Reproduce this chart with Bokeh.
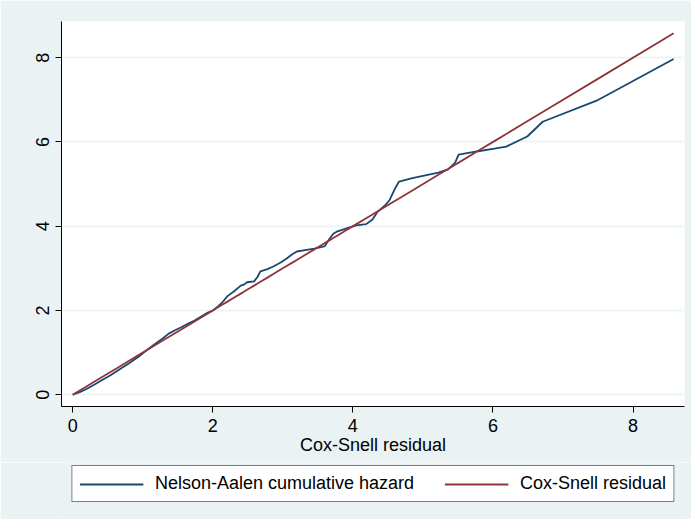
from bokeh.plotting import figure
from bokeh.models import Legend, LegendItem, FixedTicker, Range1d
from bokeh.layouts import column
from bokeh.embed import file_html
from bokeh.resources import INLINE

# Cox-Snell residuals (x) and Nelson-Aalen cumulative hazard (y)
cs_resid = [0, 0.1, 0.19, 0.3, 0.42, 0.54, 0.66, 0.8, 0.94, 1.05, 1.18, 1.28, 1.37, 1.46,
            1.55, 1.65, 1.74, 1.84, 1.93, 2.0, 2.07, 2.14, 2.21, 2.3, 2.40, 2.45, 2.49, 2.59,
            2.64, 2.68, 2.78, 2.87, 2.97, 3.06, 3.13, 3.20, 3.34, 3.45, 3.53, 3.60, 3.67, 3.72,
            3.77, 3.91, 4.05, 4.19, 4.28, 4.35, 4.45, 4.52, 4.61, 4.66, 4.85, 5.22, 5.36, 5.46,
            5.51, 5.79, 6.02, 6.19, 6.49, 6.71, 7.48, 8.58]
na_hazard = [0, 0.06, 0.13, 0.23, 0.35, 0.46, 0.59, 0.74, 0.90, 1.05, 1.21, 1.33, 1.45, 1.53,
             1.60, 1.69, 1.76, 1.86, 1.95, 2.00, 2.09, 2.20, 2.34, 2.45, 2.59, 2.62, 2.67, 2.69,
             2.80, 2.93, 2.98, 3.05, 3.14, 3.24, 3.33, 3.40, 3.44, 3.47, 3.50, 3.53, 3.71, 3.82,
             3.87, 3.95, 4.02, 4.05, 4.16, 4.34, 4.48, 4.61, 4.92, 5.06, 5.14, 5.27, 5.35, 5.51,
             5.70, 5.78, 5.84, 5.89, 6.13, 6.48, 6.98, 7.97]
x_ticks = [0, 2, 4, 6, 8]
y_ticks = [0, 2, 4, 6, 8]
labels = ["Nelson-Aalen cumulative hazard", "Cox-Snell residual"]

BG = "#EAF2F3"
NAVY = "#1A476F"
MAROON = "#90353B"
FONT = "Liberation Sans"
FS = "18px"
LW = 1.8

# ---- main plot ----
p = figure(width=691, height=462, output_backend="svg", toolbar_location=None,
           x_range=Range1d(-0.16, 8.735), y_range=Range1d(-0.28, 8.86),
           min_border_left=61, min_border_right=7, min_border_top=21, min_border_bottom=56)
p.border_fill_color = BG
p.background_fill_color = "white"
p.outline_line_color = None

p.xgrid.grid_line_color = None
p.ygrid.grid_line_color = BG
p.ygrid.grid_line_width = 1.5
p.ygrid.ticker = FixedTicker(ticks=y_ticks)

for ax in (p.xaxis[0], p.yaxis[0]):
    ax.axis_line_color = "black"
    ax.axis_line_width = 1
    ax.major_tick_line_color = "black"
    ax.major_tick_out = 6
    ax.major_tick_in = 0
    ax.minor_tick_line_color = None
    ax.major_label_text_font = FONT
    ax.major_label_text_font_size = FS
    ax.major_label_text_color = "black"
    ax.major_label_standoff = 6

p.xaxis.ticker = FixedTicker(ticks=x_ticks)
p.yaxis.ticker = FixedTicker(ticks=y_ticks)
p.yaxis.major_label_orientation = "vertical"
p.xaxis.axis_label = "Cox-Snell residual"
p.xaxis.axis_label_text_font = FONT
p.xaxis.axis_label_text_font_size = FS
p.xaxis.axis_label_text_font_style = "normal"
p.xaxis.axis_label_text_color = "black"
p.xaxis.axis_label_standoff = 0

p.line(cs_resid, na_hazard, line_color=NAVY, line_width=LW)
p.line(cs_resid, cs_resid, line_color=MAROON, line_width=LW)

# ---- legend strip (same series, view range set away from data so only legend shows) ----
lg = figure(width=691, height=57, output_backend="svg", toolbar_location=None,
            x_range=Range1d(-30, -29), y_range=Range1d(-30, -29),
            x_axis_location=None, y_axis_location=None,
            min_border_left=61, min_border_right=7, min_border_top=0, min_border_bottom=0)
lg.border_fill_color = BG
lg.background_fill_color = BG
lg.outline_line_color = None
lg.grid.grid_line_color = None
d1 = lg.line(cs_resid, na_hazard, line_color=NAVY, line_width=LW)
d2 = lg.line(cs_resid, cs_resid, line_color=MAROON, line_width=LW)

legend = Legend(items=[LegendItem(label=labels[0], renderers=[d1]),
                       LegendItem(label=labels[1], renderers=[d2])],
                orientation="horizontal", location="top",
                glyph_width=64, glyph_height=18, label_height=18,
                label_standoff=12, spacing=30, padding=7, margin=3,
                label_text_font=FONT, label_text_font_size=FS, label_text_color="black",
                border_line_color="black", border_line_width=1,
                background_fill_color="white", background_fill_alpha=1.0)
lg.add_layout(legend, "center")

layout = column(p, lg, spacing=0)
open("out.html", "w").write(file_html(layout, INLINE))
